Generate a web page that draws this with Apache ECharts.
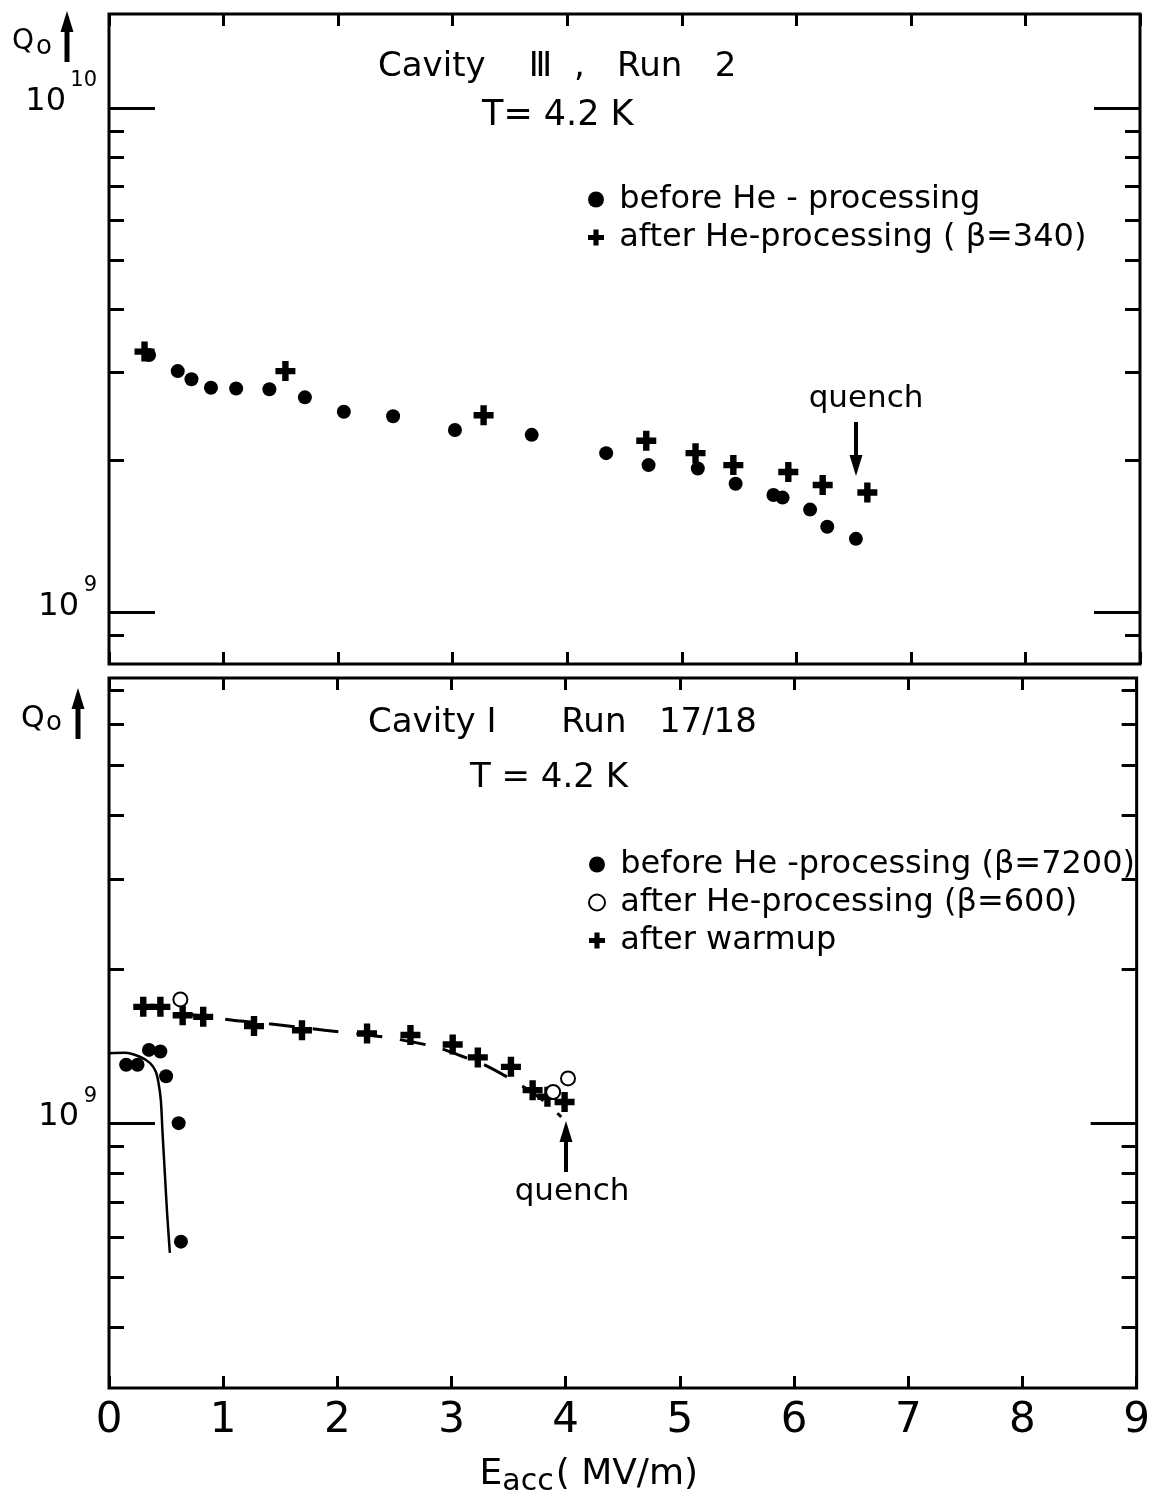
<!DOCTYPE html>
<html>
<head>
<meta charset="utf-8">
<script src="https://cdn.jsdelivr.net/npm/echarts@6/dist/echarts.min.js"></script>
<style>
html, body { margin: 0; padding: 0; background: #fff; }
#chart { width: 1153px; height: 1498px; }
</style>
</head>
<body>
<div id="chart"></div>
<script>
// Cavity III, Run 2 (top panel)
var run2BeforeE = [0.35, 0.60, 0.72, 0.89, 1.11, 1.40, 1.71, 2.05, 2.48, 3.02, 3.69, 4.34, 4.71, 5.14, 5.47, 5.80, 5.88, 6.12, 6.27, 6.52];
var run2BeforeQ = [3.24e9, 3.01e9, 2.90e9, 2.79e9, 2.78e9, 2.77e9, 2.67e9, 2.50e9, 2.45e9, 2.30e9, 2.25e9, 2.07e9, 1.96e9, 1.93e9, 1.80e9, 1.71e9, 1.69e9, 1.60e9, 1.48e9, 1.40e9];
var run2AfterE = [0.31, 1.54, 3.27, 4.69, 5.12, 5.45, 5.93, 6.23, 6.62];
var run2AfterQ = [3.29e9, 3.01e9, 2.46e9, 2.19e9, 2.07e9, 1.96e9, 1.90e9, 1.79e9, 1.73e9];

// Cavity I, Run 17/18 (bottom panel)
var run17BeforeE = [0.15, 0.25, 0.35, 0.45, 0.50, 0.61, 0.63];
var run17BeforeQ = [1.30e9, 1.30e9, 1.39e9, 1.38e9, 1.235e9, 1.00e9, 5.87e8];
var run17HeE = [0.625, 3.89, 4.02];
var run17HeQ = [1.744e9, 1.151e9, 1.223e9];
var run17WarmE = [0.30, 0.45, 0.645, 0.825, 1.27, 1.69, 2.26, 2.64, 3.01, 3.23, 3.52, 3.71, 3.84, 3.99];
var run17WarmQ = [1.687e9, 1.687e9, 1.625e9, 1.613e9, 1.547e9, 1.519e9, 1.497e9, 1.486e9, 1.424e9, 1.344e9, 1.288e9, 1.160e9, 1.126e9, 1.100e9];

// hand drawn curves
var fitBeforeE = [0, 0.14, 0.27, 0.36, 0.41, 0.434, 0.454, 0.469, 0.489, 0.509, 0.533];
var fitBeforeQ = [1.370e9, 1.372e9, 1.348e9, 1.310e9, 1.260e9, 1.197e9, 1.109e9, 9.56e8, 7.98e8, 6.67e8, 5.58e8];
var fitWarmE = [0.635, 1.087, 1.42, 1.888, 2.424, 2.857, 3.092, 3.293, 3.56, 3.76, 3.961];
var fitWarmQ = [1.638e9, 1.589e9, 1.561e9, 1.519e9, 1.471e9, 1.409e9, 1.351e9, 1.298e9, 1.204e9, 1.126e9, 1.029e9];

// axes
var topMinorTicks = [9e8, 2e9, 3e9, 4e9, 5e9, 6e9, 7e9, 8e9, 9e9];
var topDecades = [1e9, 1e10];
var bottomMinorTicks = [4e8, 5e8, 6e8, 7e8, 8e8, 9e8, 2e9, 3e9, 4e9, 5e9, 6e9, 7e9];
var bottomDecades = [1e9];
var topRange = [7.91e8, 1.535e10];
var bottomRange = [3.04e8, 7.40e9];

var FONT = '"DejaVu Sans", "Noto Sans CJK SC", sans-serif';
var PLUS = 'path://M3.4,0H6.6V3.4H10V6.6H6.6V10H3.4V6.6H0V3.4H3.4Z';

function pairs(xs, ys) {
    return xs.map(function (x, i) { return [x, ys[i]]; });
}

function xAx(grid, pos, labels) {
    return {
        type: 'value', gridIndex: grid, position: pos,
        min: 0, max: 9, interval: 1,
        axisLine: { show: false },
        splitLine: { show: false },
        axisTick: { show: true, inside: true, length: 12, lineStyle: { color: '#000', width: 3 } },
        axisLabel: { show: labels, margin: 12, color: '#000', fontSize: 42, fontFamily: FONT },
        name: labels ? '{e|E}{s|acc}{e|( MV/m)}' : '',
        nameLocation: 'middle',
        nameGap: 56,
        nameTextStyle: {
            padding: [0, 68, 0, 0],
            rich: {
                e: { fontSize: 36, fontFamily: FONT, color: '#000', lineHeight: 40, verticalAlign: 'top' },
                s: { fontSize: 30, fontFamily: FONT, color: '#000', lineHeight: 30, padding: [24, 2, 0, 0], verticalAlign: 'bottom' }
            }
        }
    };
}

function yAx(grid, pos, ticks, len, range, labels) {
    return {
        type: 'log', gridIndex: grid, position: pos,
        min: range[0], max: range[1],
        axisLine: { show: false },
        splitLine: { show: false },
        minorTick: { show: false },
        axisTick: { show: true, inside: true, length: len, customValues: ticks, lineStyle: { color: '#000', width: 3 } },
        axisLabel: {
            show: labels,
            customValues: ticks,
            margin: 12,
            verticalAlign: 'middle',
            padding: [0, 0, 28, 0],
            formatter: function (v) {
                var p = String(Math.round(Math.log10(v)));
                // exponent on its own (upper) line, base shifted left by its width
                return '{s|' + p + '}\n{b|10}{g' + p.length + '| }';
            },
            rich: {
                s: { fontSize: 21, fontFamily: FONT, color: '#000', lineHeight: 16 },
                b: { fontSize: 32, fontFamily: FONT, color: '#000', lineHeight: 26 },
                g1: { width: 18, fontSize: 10, lineHeight: 26 },
                g2: { width: 31, fontSize: 10, lineHeight: 26 }
            }
        }
    };
}

function arrow(x, y1, y2, w) {
    // shaft from y1 to tip y2
    var dir = y2 > y1 ? 1 : -1;
    return [
        { type: 'line', shape: { x1: x, y1: y1, x2: x, y2: y2 - dir * 16 }, style: { stroke: '#000', lineWidth: w } },
        { type: 'polygon', shape: { points: [[x - 6.5, y2 - dir * 21], [x + 6.5, y2 - dir * 21], [x, y2]] }, style: { fill: '#000' } }
    ];
}

function txt(text, x, y, size, align) {
    return {
        type: 'text',
        style: { text: text, x: x, y: y, fill: '#000', font: 'normal ' + size + 'px ' + FONT, textAlign: align || 'left', textVerticalAlign: 'middle' }
    };
}

var graphics = [
    txt('Cavity    Ⅲ  ,   Run   2', 378, 67, 34),
    txt('T= 4.2 K', 482, 116, 35),
    txt('quench', 866, 399, 31, 'center'),
    txt('Cavity Ⅰ      Run   17/18', 368, 723, 34),
    txt('T = 4.2 K', 470, 778, 34),
    txt('quench', 572, 1192, 31, 'center'),
    txt('Q', 12, 42, 28),
    txt('o', 36, 47, 26),
    txt('Q', 21, 719, 30),
    txt('o', 46, 723, 26)
].concat(arrow(856, 422, 476, 4))
 .concat(arrow(566, 1172, 1121, 4))
 .concat(arrow(67, 62, 11, 5))
 .concat(arrow(78, 739, 688, 5));

var legendText = { color: '#000', fontSize: 32, fontFamily: FONT, lineHeight: 35 };

var option = {
    backgroundColor: '#fff',
    animation: false,
    grid: [
        { left: 109, top: 14, right: 13, height: 650, show: true, borderColor: '#000', borderWidth: 3, backgroundColor: 'transparent' },
        { left: 109, top: 678, right: 14, height: 710, show: true, borderColor: '#000', borderWidth: 3, backgroundColor: 'transparent' }
    ],
    xAxis: [
        xAx(0, 'bottom', false),
        xAx(0, 'top', false),
        xAx(1, 'bottom', true),
        xAx(1, 'top', false)
    ],
    yAxis: [
        yAx(0, 'left', topMinorTicks, 15, topRange, false),
        yAx(0, 'left', topDecades, 46, topRange, true),
        yAx(0, 'right', topMinorTicks, 15, topRange, false),
        yAx(0, 'right', topDecades, 46, topRange, false),
        yAx(1, 'left', bottomMinorTicks, 15, bottomRange, false),
        yAx(1, 'left', bottomDecades, 46, bottomRange, true),
        yAx(1, 'right', bottomMinorTicks, 15, bottomRange, false),
        yAx(1, 'right', bottomDecades, 46, bottomRange, false)
    ],
    legend: [{
        orient: 'vertical', left: 588, top: 182,
        itemWidth: 16, itemHeight: 16, itemGap: 3, padding: 0,
        formatter: function (n) { return ' ' + n; },
        textStyle: legendText,
        data: ['before He - processing', 'after He-processing ( β=340)']
    }, {
        orient: 'vertical', left: 588, top: 847,
        itemWidth: 16, itemHeight: 16, itemGap: 3, padding: 0,
        formatter: function (n) { return ' ' + n; },
        textStyle: legendText,
        data: ['before He -processing (β=7200)', 'after He-processing (β=600)', 'after warmup']
    }],
    graphic: graphics,
    series: [{
        name: 'before He - processing', type: 'scatter', xAxisIndex: 0, yAxisIndex: 0,
        symbol: 'circle', symbolSize: 14, itemStyle: { color: '#000', opacity: 1 },
        data: pairs(run2BeforeE, run2BeforeQ)
    }, {
        name: 'after He-processing ( β=340)', type: 'scatter', xAxisIndex: 0, yAxisIndex: 0,
        symbol: PLUS, symbolSize: 20, itemStyle: { color: '#000', opacity: 1 },
        data: pairs(run2AfterE, run2AfterQ)
    }, {
        name: 'fit before', type: 'line', xAxisIndex: 2, yAxisIndex: 4,
        symbol: 'none', smooth: 0.3, lineStyle: { color: '#000', width: 2.5 },
        data: pairs(fitBeforeE, fitBeforeQ)
    }, {
        name: 'fit warmup', type: 'line', xAxisIndex: 2, yAxisIndex: 4,
        symbol: 'none', smooth: 0.3, lineStyle: { color: '#000', width: 3, type: [26, 18] },
        data: pairs(fitWarmE, fitWarmQ)
    }, {
        name: 'before He -processing (β=7200)', type: 'scatter', xAxisIndex: 2, yAxisIndex: 4,
        symbol: 'circle', symbolSize: 14, itemStyle: { color: '#000', opacity: 1 },
        data: pairs(run17BeforeE, run17BeforeQ)
    }, {
        name: 'after warmup', type: 'scatter', xAxisIndex: 2, yAxisIndex: 4,
        symbol: PLUS, symbolSize: 20, itemStyle: { color: '#000', opacity: 1 },
        data: pairs(run17WarmE, run17WarmQ)
    }, {
        name: 'after He-processing (β=600)', type: 'scatter', xAxisIndex: 2, yAxisIndex: 4,
        symbol: 'emptyCircle', symbolSize: 14, itemStyle: { color: '#000', borderColor: '#000', borderWidth: 2, opacity: 1 },
        data: pairs(run17HeE, run17HeQ)
    }]
};

var chart = echarts.init(document.getElementById('chart'));
chart.setOption(option);
</script>
</body>
</html>
